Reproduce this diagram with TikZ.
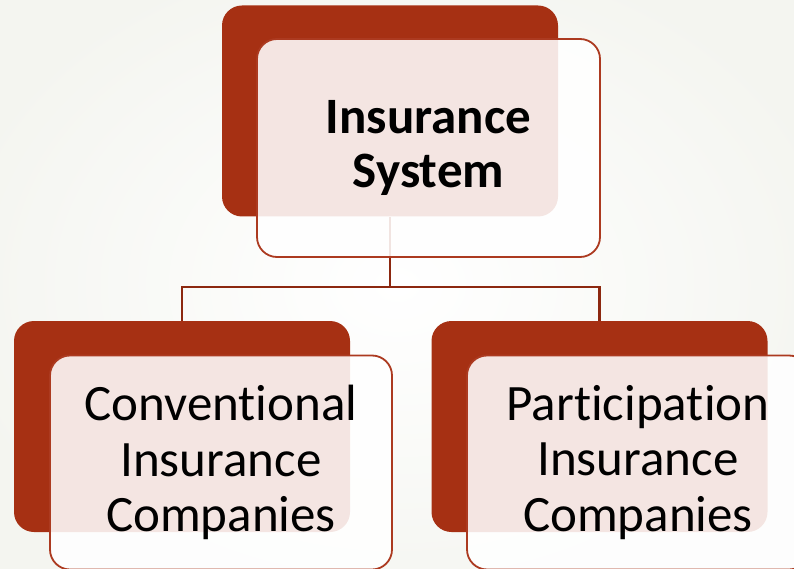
\documentclass[tikz,border=0pt]{standalone}
\usepackage{fontspec}
\setmainfont[Ligatures=NoCommon]{Carlito}
\definecolor{rust}{RGB}{166,48,19}
\definecolor{rustline}{RGB}{172,58,32}
\definecolor{linkred}{RGB}{140,40,16}
\definecolor{paper}{RGB}{244,245,240}
\tikzset{
  backbox/.style={fill=rust, rounded corners=20pt, inner sep=0pt,
    minimum width=336pt, minimum height=211pt},
  frontbox/.style={draw=rustline, line width=1.8pt, fill=white, fill opacity=0.88,
    text opacity=1, rounded corners=20pt, inner sep=0pt, align=center,
    minimum width=342pt, minimum height=214pt},
  link/.style={draw=linkred, line width=2.8pt},
  headtext/.style={font=\fontsize{51}{54}\selectfont\bfseries},
  childtext/.style={font=\fontsize{51}{55.5}\selectfont},
}
\begin{document}
\begin{tikzpicture}[x=1pt,y=-1pt]
  \useasboundingbox (0,0) rectangle (794,569);
  \clip (0,0) rectangle (794,569);
  \shade[inner color=white, outer color=paper] (-60,-60) rectangle (854,629);

  % back tiles
  \node[backbox] (topback) at (390,111) {};
  \node[backbox] (leftback) at (182,426.5) {};
  \node[backbox] (rightback) at (599.5,426.5) {};

  % tree connectors
  \coordinate (bus) at (390,287);
  \draw[link] (topback.south) -- (bus);
  \draw[link] (leftback.north) |- (bus) -| (rightback.north);

  % front cards with labels
  \node[frontbox, headtext, minimum width=343pt, minimum height=218pt] (topcard) at (428.5,148)
    {Insurance\\System};
  \node[frontbox, childtext] (leftcard) at (221,462.5)
    {Conventional\\Insurance\\Companies};
  \node[frontbox, childtext] (rightcard) at (638,462.5)
    {Participation\\Insurance\\Companies};
\end{tikzpicture}
\end{document}
